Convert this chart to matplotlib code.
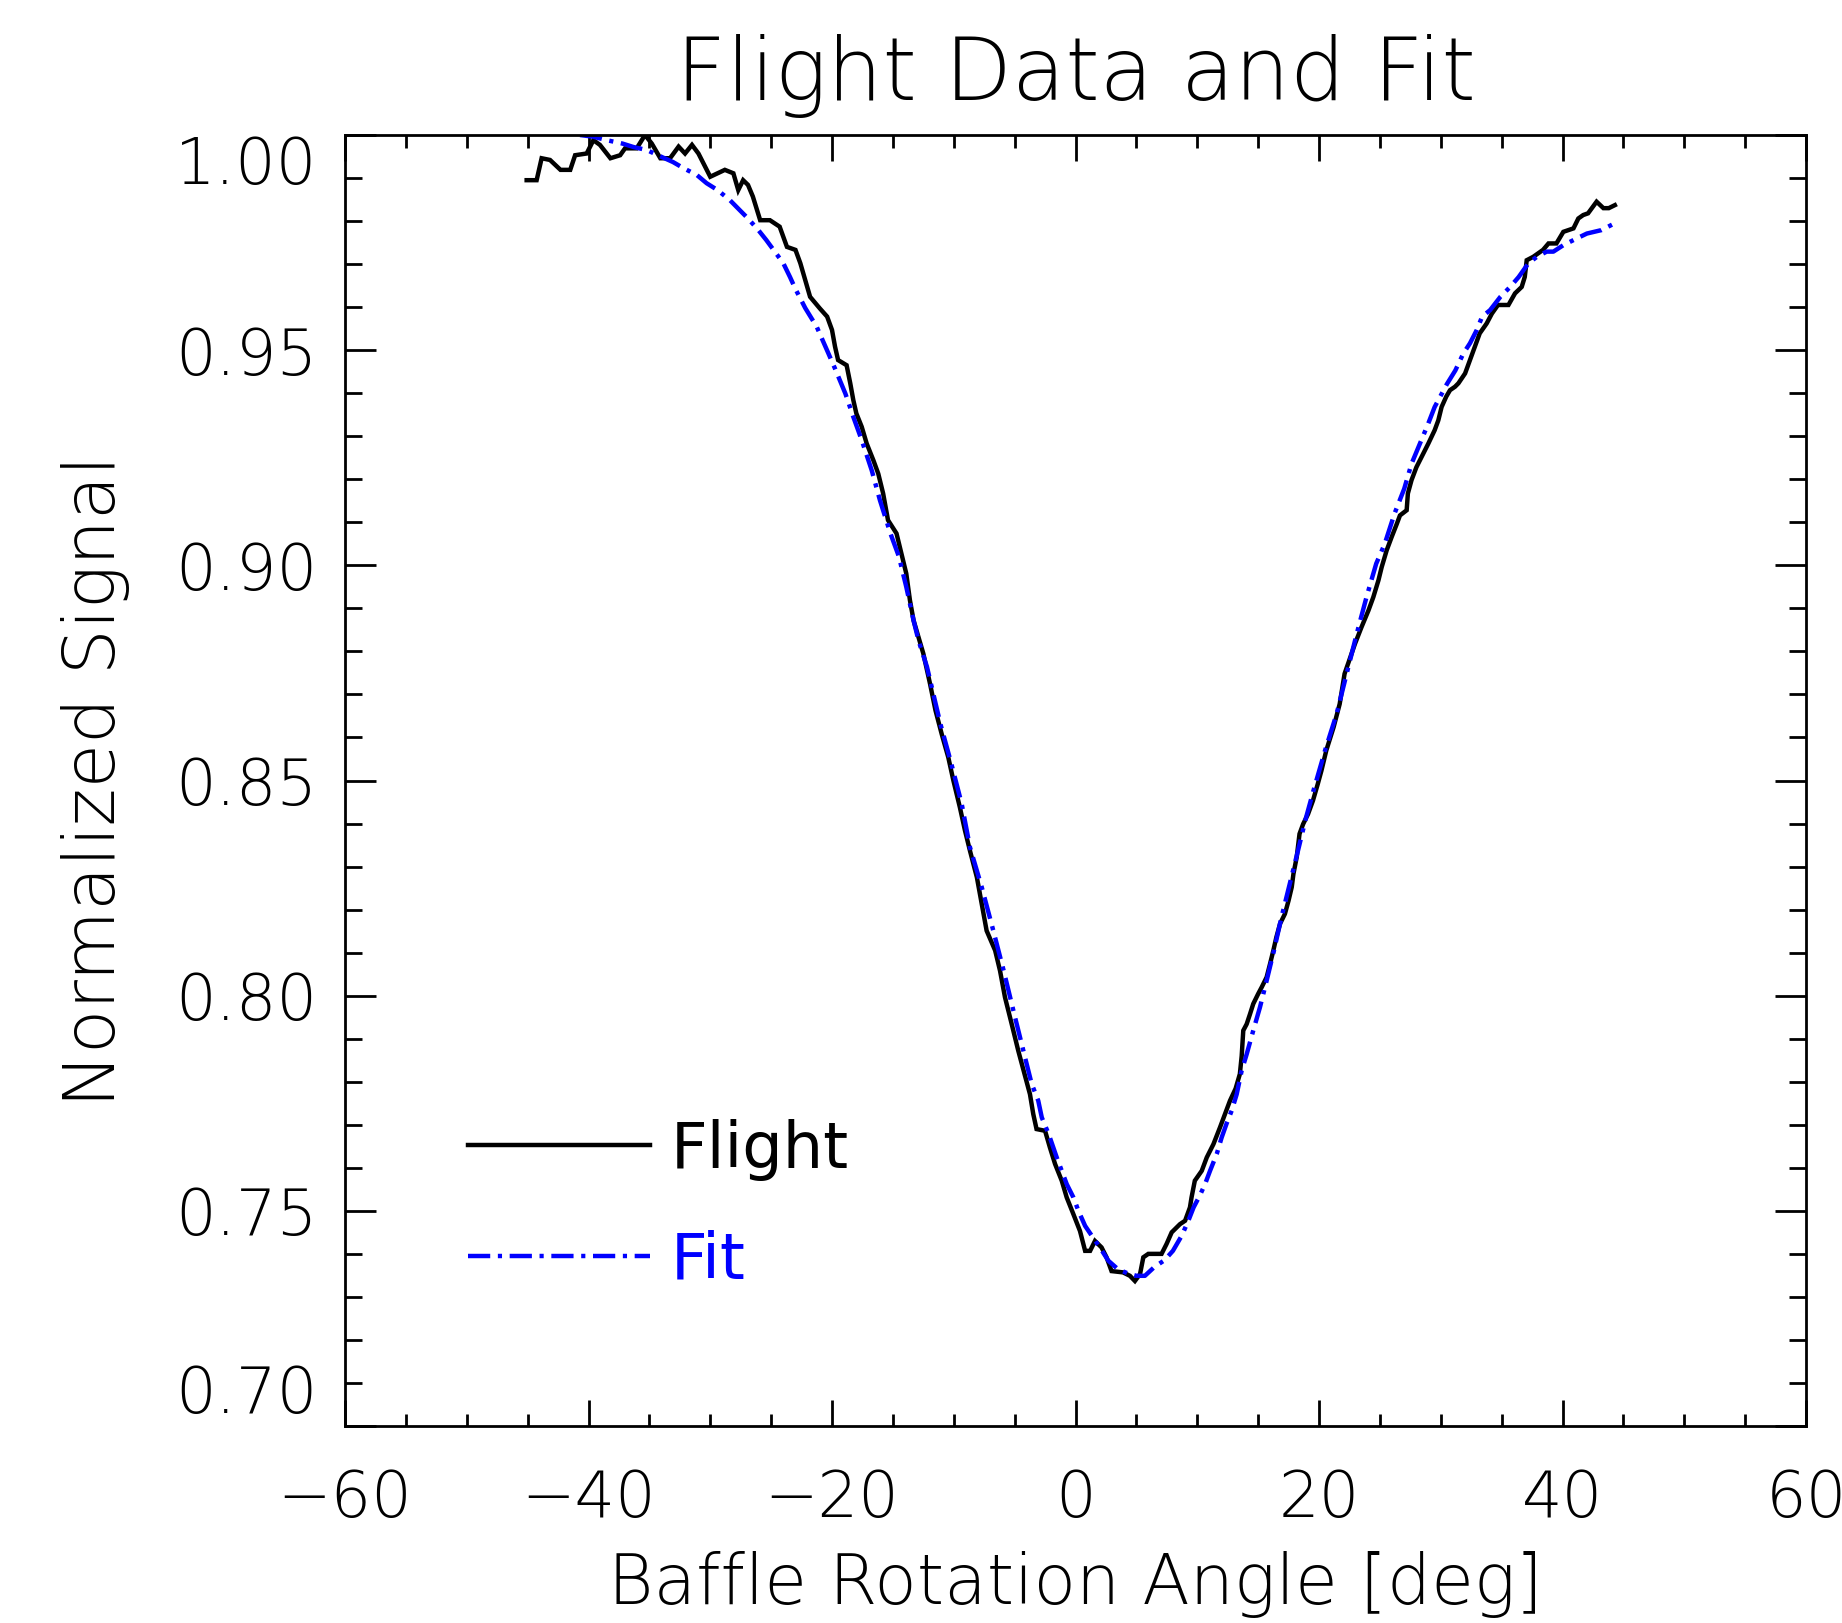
import matplotlib
matplotlib.use("Agg")
import matplotlib.pyplot as plt
from matplotlib.lines import Line2D
import numpy as np

plt.rcParams['font.family'] = ['DejaVu Sans']
plt.rcParams['lines.scale_dashes'] = False

title = "Flight Data and Fit"
xlabel = "Baffle Rotation Angle [deg]"
ylabel = "Normalized Signal"
series_names = ["Flight", "Fit"]

flight_x = [-45.08, -44.26, -43.85, -43.16, -42.3, -41.5, -41.1, -40.15, -39.6, -39.06,
            -38.2, -37.4, -37.0, -36.04, -35.36, -34.8, -34.1, -33.3, -32.6, -32.07,
            -31.5, -30.97, -30.0, -28.8, -28.1, -27.7, -27.3, -26.9, -26.5, -25.9,
            -25.1, -24.3, -23.7, -23.0, -22.6, -21.8, -21.0, -20.4, -20.0, -19.75,
            -19.5, -18.8, -18.5, -18.25, -18.0, -17.56, -17.15, -16.6, -16.2, -15.8,
            -15.4, -14.7, -14.3, -13.9, -13.6, -13.3, -12.5, -11.95, -11.5, -10.99,
            -10.45, -10.03, -9.5, -9.08, -8.67, -8.1, -7.7, -7.3, -6.6, -6.2,
            -5.79, -5.24, -4.7, -4.15, -3.74, -3.47, -3.2, -2.5, -2.1, -1.68,
            -1.13, -0.72, -0.17, 0.37, 0.79, 1.2, 1.6, 2.14, 2.55, 2.96,
            3.9, 4.47, 4.88, 5.3, 5.57, 5.98, 7.07, 7.48, 7.9, 8.58,
            9.0, 9.4, 9.53, 9.8, 10.37, 10.78, 11.33, 11.87, 12.28, 12.69,
            13.15, 13.5, 13.65, 13.78, 14.06, 14.33, 14.6, 15.0, 15.3, 15.7,
            15.98, 16.25, 16.5, 16.8, 17.2, 17.5, 17.76, 17.9, 18.17, 18.4,
            18.7, 19.1, 19.5, 19.9, 20.2, 20.6, 21.2, 21.7, 22.1, 22.96,
            23.5, 24.06, 24.46, 24.88, 25.15, 25.56, 25.97, 26.4, 26.65, 27.2,
            27.3, 27.6, 28.0, 28.57, 28.98, 29.5, 29.8, 30.07, 30.45, 30.76,
            31.17, 31.45, 32.0, 32.4, 32.7, 33.2, 33.77, 34.2, 34.7, 35.56,
            36.1, 36.65, 36.9, 37.06, 37.6, 38.4, 38.85, 39.5, 40.07, 40.9,
            41.3, 41.7, 42.1, 42.8, 43.36, 43.8, 44.3]
flight_y = [0.9895, 0.9895, 0.9946, 0.9942, 0.9919, 0.9919, 0.9953, 0.9957, 0.9988, 0.9977,
            0.9946, 0.9953, 0.9969, 0.9969, 1.0000, 0.9980, 0.9946, 0.9946, 0.9973, 0.9957,
            0.9977, 0.9957, 0.9903, 0.9919, 0.9911, 0.9872, 0.9895, 0.9884, 0.9857, 0.9802,
            0.9802, 0.9787, 0.9740, 0.9733, 0.9702, 0.9624, 0.9597, 0.9578, 0.9547, 0.9508,
            0.9477, 0.9465, 0.9423, 0.9384, 0.9353, 0.9322, 0.9283, 0.9244, 0.9213, 0.9167,
            0.9105, 0.9074, 0.9027, 0.8981, 0.8919, 0.8872, 0.8795, 0.8725, 0.8663, 0.8608,
            0.8554, 0.8500, 0.8438, 0.8384, 0.8337, 0.8275, 0.8213, 0.8151, 0.8105, 0.8058,
            0.7996, 0.7934, 0.7872, 0.7814, 0.7771, 0.7725, 0.7690, 0.7686, 0.7647, 0.7609,
            0.7570, 0.7531, 0.7492, 0.7453, 0.7407, 0.7407, 0.7430, 0.7415, 0.7392, 0.7360,
            0.7357, 0.7349, 0.7337, 0.7353, 0.7392, 0.7400, 0.7400, 0.7423, 0.7450, 0.7469,
            0.7477, 0.7508, 0.7531, 0.7570, 0.7593, 0.7624, 0.7655, 0.7694, 0.7725, 0.7756,
            0.7784, 0.7818, 0.7860, 0.7919, 0.7934, 0.7957, 0.7981, 0.8004, 0.8020, 0.8043,
            0.8074, 0.8105, 0.8136, 0.8167, 0.8190, 0.8221, 0.8252, 0.8283, 0.8322, 0.8376,
            0.8399, 0.8422, 0.8453, 0.8492, 0.8523, 0.8570, 0.8624, 0.8678, 0.8748, 0.8818,
            0.8857, 0.8895, 0.8926, 0.8965, 0.8996, 0.9035, 0.9066, 0.9097, 0.9116, 0.9128,
            0.9167, 0.9198, 0.9228, 0.9260, 0.9283, 0.9314, 0.9337, 0.9368, 0.9392, 0.9407,
            0.9415, 0.9423, 0.9446, 0.9477, 0.9500, 0.9539, 0.9562, 0.9585, 0.9605, 0.9605,
            0.9632, 0.9647, 0.9670, 0.9709, 0.9717, 0.9733, 0.9748, 0.9748, 0.9775, 0.9783,
            0.9806, 0.9814, 0.9818, 0.9845, 0.9830, 0.9830, 0.9837]

fit_x = [-40.7, -39.6, -38.5, -37.2, -36.3, -35.2, -34.3, -33.05, -32.2, -31.1,
         -30.3, -29.4, -28.4, -27.6, -26.9, -26.05, -25.4, -24.7, -24.0, -23.45,
         -23.0, -22.2, -21.25, -20.35, -19.75, -18.9, -18.25, -17.56, -16.74, -16.06,
         -15.2, -14.5, -13.9, -13.3, -12.9, -12.2, -11.1, -10.2, -9.35, -8.67,
         -7.7, -6.75, -5.9, -5.1, -4.15, -3.6, -3.06, -2.77, -2.2, -1.82,
         -1.54, -1.13, -0.72, -0.17, 0.24, 0.79, 1.34, 2.0, 2.7, 3.5,
         4.35, 5.0, 5.7, 6.5, 7.3, 8.0, 8.72, 9.27, 9.7, 10.2,
         10.64, 11.05, 11.6, 12.0, 12.4, 12.83, 13.24, 13.65, 14.06, 14.6,
         15.15, 15.7, 16.3, 16.9, 17.6, 18.3, 18.9, 19.55, 20.5, 21.45,
         22.27, 23.1, 23.9, 24.7, 25.4, 26.2, 27.0, 27.6, 28.57, 28.98,
         29.5, 30.5, 31.2, 31.85, 32.4, 32.96, 33.4, 34.05, 34.9, 35.7,
         36.4, 37.2, 37.9, 38.7, 39.25, 40.07, 41.2, 42.0, 43.2, 44.3]
fit_y = [1.0000, 0.9996, 0.9988, 0.9980, 0.9972, 0.9965, 0.9953, 0.9937, 0.9923, 0.9907,
         0.9888, 0.9872, 0.9849, 0.9826, 0.9806, 0.9779, 0.9756, 0.9729, 0.9702, 0.9670,
         0.9642, 0.9598, 0.9554, 0.9496, 0.9457, 0.9399, 0.9345, 0.9291, 0.9221, 0.9151,
         0.9074, 0.9020, 0.8950, 0.8872, 0.8826, 0.8764, 0.8632, 0.8539, 0.8446, 0.8345,
         0.8252, 0.8151, 0.8058, 0.7965, 0.7857, 0.7795, 0.7756, 0.7717, 0.7678, 0.7647,
         0.7624, 0.7593, 0.7562, 0.7531, 0.7500, 0.7465, 0.7442, 0.7415, 0.7384, 0.7364,
         0.7354, 0.7349, 0.7349, 0.7370, 0.7385, 0.7407, 0.7442, 0.7477, 0.7508, 0.7535,
         0.7562, 0.7593, 0.7632, 0.7670, 0.7702, 0.7733, 0.7771, 0.7826, 0.7864, 0.7919,
         0.7973, 0.8035, 0.8105, 0.8180, 0.8260, 0.8340, 0.8410, 0.8477, 0.8570, 0.8655,
         0.8748, 0.8841, 0.8926, 0.9004, 0.9050, 0.9120, 0.9178, 0.9236, 0.9302, 0.9330,
         0.9368, 0.9421, 0.9453, 0.9492, 0.9516, 0.9547, 0.9578, 0.9593, 0.9624, 0.9647,
         0.9670, 0.9702, 0.9717, 0.9729, 0.9729, 0.9744, 0.9760, 0.9771, 0.9779, 0.9795]

x_major = [-60, -40, -20, 0, 20, 40, 60]
y_major = [0.70, 0.75, 0.80, 0.85, 0.90, 0.95, 1.00]

W, H = 1842, 1623
fig = plt.figure(figsize=(W / 100, H / 100), dpi=100)
L, R, T, B = 345, 1806, 135, 1426
ax = fig.add_axes([L / W, 1 - B / H, (R - L) / W, (B - T) / H])

dashdot = (0, (16, 5.5, 3, 5.5))
ax.plot(flight_x, flight_y, color='black', lw=3.2, solid_joinstyle='miter')
ax.plot(fit_x, fit_y, color='#0000ff', lw=3.2, linestyle=dashdot)

ax.set_xlim(-60, 60)
ax.set_ylim(0.70, 1.00)
ax.set_xticks(x_major)
ax.set_yticks(y_major)
ax.set_xticks(np.arange(-60, 61, 5), minor=True)
ax.set_yticks(np.arange(0.70, 1.0001, 0.01), minor=True)
ax.set_xticklabels([f"{v:d}".replace('-', '\u2212') for v in x_major])
ax.set_yticklabels([f"{v:.2f}" for v in y_major])

for s in ax.spines.values():
    s.set_linewidth(2.0)

ax.tick_params(which='both', direction='in', top=True, right=True, width=2.0)
ax.tick_params(axis='x', which='major', length=19, pad=30)
ax.tick_params(axis='x', which='minor', length=9)
ax.tick_params(axis='y', which='major', length=22, pad=20)
ax.tick_params(axis='y', which='minor', length=12)
for lab in ax.get_xticklabels() + ax.get_yticklabels():
    lab.set_fontsize(46)
    lab.set_fontweight('light')

yt = ax.yaxis.get_major_ticks()
yt[0].label1.set_va('bottom')
yt[-1].label1.set_va('top')

ax.set_title(title, fontsize=63, fontweight='light', pad=25)
ax.set_xlabel(xlabel, fontsize=50, fontweight='light', va='baseline')
ax.xaxis.set_label_coords(0.5, (B - 1604) / (B - T))
ax.set_ylabel(ylabel, fontsize=52, fontweight='light', va='baseline')
ax.yaxis.set_label_coords((115 - L) / (R - L), 0.5)

handles = [Line2D([], [], color='black', lw=3.2),
           Line2D([], [], color='#0000ff', lw=3.2, linestyle=dashdot)]
leg = ax.legend(handles, series_names, loc='center left',
                bbox_to_anchor=((468 - L) / (R - L), (B - 1205) / (B - T)),
                frameon=False, fontsize=46, handlelength=2.85,
                handletextpad=0.33, labelspacing=0.76, borderpad=0, borderaxespad=0)
for txt, c in zip(leg.get_texts(), ['black', '#0000ff']):
    txt.set_color(c)

fig.savefig("out.png", dpi=100)
